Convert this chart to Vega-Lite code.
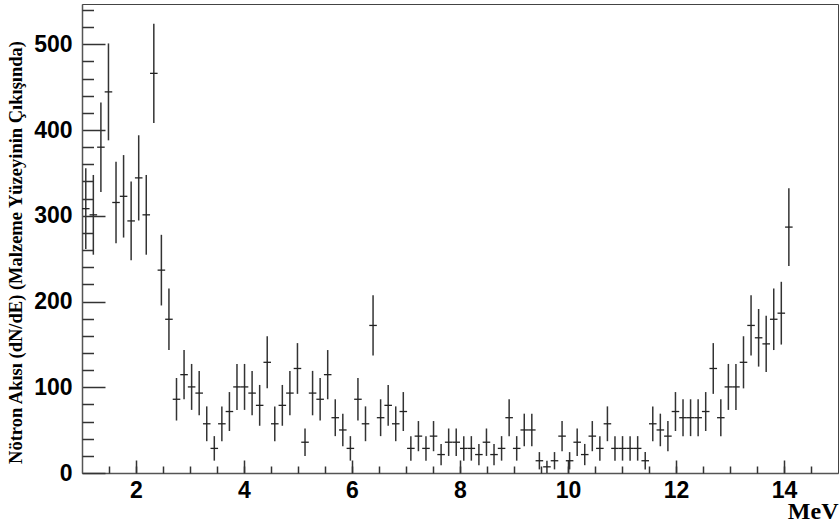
{
  "$schema": "https://vega.github.io/schema/vega-lite/v6.json",
  "width": 756,
  "height": 469,
  "autosize": {"type": "none"},
  "padding": {"left": 82, "top": 4, "right": 1, "bottom": 53},
  "background": "white",
  "config": {"view": {"stroke": "#444", "strokeWidth": 1}, "axis": {"grid": false}},
  "data": {"values": [
    {"lo": 1.00, "E": 1.07, "hi": 1.14, "v": 308.3, "err": 47.0},
    {"lo": 1.14, "E": 1.21, "hi": 1.28, "v": 301.1, "err": 46.5},
    {"lo": 1.28, "E": 1.35, "hi": 1.42, "v": 380.0, "err": 52.2},
    {"lo": 1.42, "E": 1.49, "hi": 1.56, "v": 444.5, "err": 56.5},
    {"lo": 1.56, "E": 1.63, "hi": 1.70, "v": 315.5, "err": 47.6},
    {"lo": 1.70, "E": 1.77, "hi": 1.84, "v": 322.7, "err": 48.1},
    {"lo": 1.84, "E": 1.91, "hi": 1.98, "v": 294.0, "err": 45.9},
    {"lo": 1.98, "E": 2.05, "hi": 2.12, "v": 344.2, "err": 49.7},
    {"lo": 2.12, "E": 2.19, "hi": 2.26, "v": 301.1, "err": 46.5},
    {"lo": 2.26, "E": 2.33, "hi": 2.40, "v": 466.1, "err": 57.8},
    {"lo": 2.40, "E": 2.47, "hi": 2.54, "v": 236.6, "err": 41.2},
    {"lo": 2.54, "E": 2.61, "hi": 2.68, "v": 179.3, "err": 35.9},
    {"lo": 2.68, "E": 2.75, "hi": 2.82, "v": 86.0, "err": 24.8},
    {"lo": 2.82, "E": 2.89, "hi": 2.96, "v": 114.7, "err": 28.7},
    {"lo": 2.96, "E": 3.03, "hi": 3.10, "v": 100.4, "err": 26.8},
    {"lo": 3.10, "E": 3.17, "hi": 3.24, "v": 93.2, "err": 25.9},
    {"lo": 3.24, "E": 3.31, "hi": 3.38, "v": 57.4, "err": 20.3},
    {"lo": 3.38, "E": 3.45, "hi": 3.52, "v": 28.7, "err": 14.3},
    {"lo": 3.52, "E": 3.59, "hi": 3.66, "v": 57.4, "err": 20.3},
    {"lo": 3.66, "E": 3.73, "hi": 3.80, "v": 71.7, "err": 22.7},
    {"lo": 3.80, "E": 3.87, "hi": 3.94, "v": 100.4, "err": 26.8},
    {"lo": 3.94, "E": 4.01, "hi": 4.08, "v": 100.4, "err": 26.8},
    {"lo": 4.08, "E": 4.15, "hi": 4.22, "v": 93.2, "err": 25.9},
    {"lo": 4.22, "E": 4.29, "hi": 4.36, "v": 78.9, "err": 23.8},
    {"lo": 4.36, "E": 4.43, "hi": 4.50, "v": 129.1, "err": 30.4},
    {"lo": 4.50, "E": 4.57, "hi": 4.64, "v": 57.4, "err": 20.3},
    {"lo": 4.64, "E": 4.71, "hi": 4.78, "v": 78.9, "err": 23.8},
    {"lo": 4.78, "E": 4.85, "hi": 4.92, "v": 93.2, "err": 25.9},
    {"lo": 4.92, "E": 4.99, "hi": 5.06, "v": 121.9, "err": 29.6},
    {"lo": 5.06, "E": 5.13, "hi": 5.20, "v": 35.9, "err": 16.0},
    {"lo": 5.20, "E": 5.27, "hi": 5.34, "v": 93.2, "err": 25.9},
    {"lo": 5.34, "E": 5.41, "hi": 5.48, "v": 86.0, "err": 24.8},
    {"lo": 5.48, "E": 5.55, "hi": 5.62, "v": 114.7, "err": 28.7},
    {"lo": 5.62, "E": 5.69, "hi": 5.76, "v": 64.5, "err": 21.5},
    {"lo": 5.76, "E": 5.83, "hi": 5.90, "v": 50.2, "err": 19.0},
    {"lo": 5.90, "E": 5.97, "hi": 6.04, "v": 28.7, "err": 14.3},
    {"lo": 6.04, "E": 6.11, "hi": 6.18, "v": 86.0, "err": 24.8},
    {"lo": 6.18, "E": 6.25, "hi": 6.32, "v": 57.4, "err": 20.3},
    {"lo": 6.32, "E": 6.39, "hi": 6.46, "v": 172.1, "err": 35.1},
    {"lo": 6.46, "E": 6.53, "hi": 6.60, "v": 64.5, "err": 21.5},
    {"lo": 6.60, "E": 6.67, "hi": 6.74, "v": 78.9, "err": 23.8},
    {"lo": 6.74, "E": 6.81, "hi": 6.88, "v": 57.4, "err": 20.3},
    {"lo": 6.88, "E": 6.95, "hi": 7.02, "v": 71.7, "err": 22.7},
    {"lo": 7.02, "E": 7.09, "hi": 7.16, "v": 28.7, "err": 14.3},
    {"lo": 7.16, "E": 7.23, "hi": 7.30, "v": 43.0, "err": 17.6},
    {"lo": 7.30, "E": 7.37, "hi": 7.44, "v": 28.7, "err": 14.3},
    {"lo": 7.44, "E": 7.51, "hi": 7.58, "v": 43.0, "err": 17.6},
    {"lo": 7.58, "E": 7.65, "hi": 7.72, "v": 21.5, "err": 12.4},
    {"lo": 7.72, "E": 7.79, "hi": 7.86, "v": 35.9, "err": 16.0},
    {"lo": 7.86, "E": 7.93, "hi": 8.00, "v": 35.9, "err": 16.0},
    {"lo": 8.00, "E": 8.07, "hi": 8.14, "v": 28.7, "err": 14.3},
    {"lo": 8.14, "E": 8.21, "hi": 8.28, "v": 28.7, "err": 14.3},
    {"lo": 8.28, "E": 8.35, "hi": 8.42, "v": 21.5, "err": 12.4},
    {"lo": 8.42, "E": 8.49, "hi": 8.56, "v": 35.9, "err": 16.0},
    {"lo": 8.56, "E": 8.63, "hi": 8.70, "v": 21.5, "err": 12.4},
    {"lo": 8.70, "E": 8.77, "hi": 8.84, "v": 28.7, "err": 14.3},
    {"lo": 8.84, "E": 8.91, "hi": 8.98, "v": 64.5, "err": 21.5},
    {"lo": 8.98, "E": 9.05, "hi": 9.12, "v": 28.7, "err": 14.3},
    {"lo": 9.12, "E": 9.19, "hi": 9.26, "v": 50.2, "err": 19.0},
    {"lo": 9.26, "E": 9.33, "hi": 9.40, "v": 50.2, "err": 19.0},
    {"lo": 9.40, "E": 9.47, "hi": 9.54, "v": 14.3, "err": 10.1},
    {"lo": 9.54, "E": 9.61, "hi": 9.68, "v": 7.2, "err": 7.2},
    {"lo": 9.68, "E": 9.75, "hi": 9.82, "v": 14.3, "err": 10.1},
    {"lo": 9.82, "E": 9.89, "hi": 9.96, "v": 43.0, "err": 17.6},
    {"lo": 9.96, "E": 10.03, "hi": 10.10, "v": 14.3, "err": 10.1},
    {"lo": 10.10, "E": 10.17, "hi": 10.24, "v": 35.9, "err": 16.0},
    {"lo": 10.24, "E": 10.31, "hi": 10.38, "v": 21.5, "err": 12.4},
    {"lo": 10.38, "E": 10.45, "hi": 10.52, "v": 43.0, "err": 17.6},
    {"lo": 10.52, "E": 10.59, "hi": 10.66, "v": 28.7, "err": 14.3},
    {"lo": 10.66, "E": 10.73, "hi": 10.80, "v": 57.4, "err": 20.3},
    {"lo": 10.80, "E": 10.87, "hi": 10.94, "v": 28.7, "err": 14.3},
    {"lo": 10.94, "E": 11.01, "hi": 11.08, "v": 28.7, "err": 14.3},
    {"lo": 11.08, "E": 11.15, "hi": 11.22, "v": 28.7, "err": 14.3},
    {"lo": 11.22, "E": 11.29, "hi": 11.36, "v": 28.7, "err": 14.3},
    {"lo": 11.36, "E": 11.43, "hi": 11.50, "v": 14.3, "err": 10.1},
    {"lo": 11.50, "E": 11.57, "hi": 11.64, "v": 57.4, "err": 20.3},
    {"lo": 11.64, "E": 11.71, "hi": 11.78, "v": 50.2, "err": 19.0},
    {"lo": 11.78, "E": 11.85, "hi": 11.92, "v": 43.0, "err": 17.6},
    {"lo": 11.92, "E": 11.99, "hi": 12.06, "v": 71.7, "err": 22.7},
    {"lo": 12.06, "E": 12.13, "hi": 12.20, "v": 64.5, "err": 21.5},
    {"lo": 12.20, "E": 12.27, "hi": 12.34, "v": 64.5, "err": 21.5},
    {"lo": 12.34, "E": 12.41, "hi": 12.48, "v": 64.5, "err": 21.5},
    {"lo": 12.48, "E": 12.55, "hi": 12.62, "v": 71.7, "err": 22.7},
    {"lo": 12.62, "E": 12.69, "hi": 12.76, "v": 121.9, "err": 29.6},
    {"lo": 12.76, "E": 12.83, "hi": 12.90, "v": 64.5, "err": 21.5},
    {"lo": 12.90, "E": 12.97, "hi": 13.04, "v": 100.4, "err": 26.8},
    {"lo": 13.04, "E": 13.11, "hi": 13.18, "v": 100.4, "err": 26.8},
    {"lo": 13.18, "E": 13.25, "hi": 13.32, "v": 129.1, "err": 30.4},
    {"lo": 13.32, "E": 13.39, "hi": 13.46, "v": 172.1, "err": 35.1},
    {"lo": 13.46, "E": 13.53, "hi": 13.60, "v": 157.7, "err": 33.6},
    {"lo": 13.60, "E": 13.67, "hi": 13.74, "v": 150.6, "err": 32.9},
    {"lo": 13.74, "E": 13.81, "hi": 13.88, "v": 179.3, "err": 35.9},
    {"lo": 13.88, "E": 13.95, "hi": 14.02, "v": 186.4, "err": 36.6},
    {"lo": 14.02, "E": 14.09, "hi": 14.16, "v": 286.8, "err": 45.3}
  ]},
  "layer": [
    {
      "mark": {"type": "errorbar", "ticks": false, "color": "#333", "rule": {"strokeWidth": 1.5}},
      "encoding": {
        "x": {
          "field": "E", "type": "quantitative",
          "scale": {"domain": [1, 15], "nice": false, "zero": false},
          "axis": {
            "orient": "bottom", "values": [2, 4, 6, 8, 10, 12, 14],
            "tickSize": -13, "tickColor": "#333", "tickWidth": 1.5,
            "domainColor": "#555", "domainWidth": 1.5,
            "labelFont": "Liberation Sans", "labelFontWeight": "bold", "labelFontSize": 23, "labelColor": "black",
            "labelPadding": 19, "labelFlush": false, "labelOverlap": false,
            "title": "MeV", "titleFont": "Liberation Serif", "titleFontWeight": "bold", "titleFontSize": 24,
            "titleColor": "black", "titleAnchor": "end", "titleAlign": "right", "titlePadding": -3
          }
        },
        "y": {
          "field": "v", "type": "quantitative",
          "scale": {"domain": [0, 547], "nice": false, "zero": true},
          "axis": {
            "orient": "left", "values": [0, 100, 200, 300, 400, 500],
            "tickSize": -23, "tickColor": "#333", "tickWidth": 1.5,
            "domainColor": "#555", "domainWidth": 1.5,
            "labelFont": "Liberation Sans", "labelFontWeight": "bold", "labelFontSize": 23, "labelColor": "black",
            "labelPadding": 33, "labelOverlap": false,
            "title": "Nötron Akısı (dN/dE) (Malzeme Yüzeyinin Çıkışında)",
            "titleFont": "Liberation Serif", "titleFontWeight": "bold", "titleFontSize": 18.5,
            "titleColor": "black", "titlePadding": 8, "titleY": 248
          }
        },
        "yError": {"field": "err"}
      }
    },
    {
      "mark": {"type": "rule", "stroke": "#222", "strokeWidth": 1.3},
      "encoding": {
        "x": {
          "field": "lo", "type": "quantitative",
          "axis": {
            "orient": "bottom", "values": [1.5, 2, 2.5, 3, 3.5, 4, 4.5, 5, 5.5, 6, 6.5, 7, 7.5, 8, 8.5, 9, 9.5, 10, 10.5, 11, 11.5, 12, 12.5, 13, 13.5, 14, 14.5],
            "tickSize": -7, "tickColor": "#333", "tickWidth": 1.5,
            "labels": false, "domain": false, "title": null
          }
        },
        "x2": {"field": "hi"},
        "y": {
          "field": "v", "type": "quantitative",
          "axis": {
            "orient": "left", "values": [20, 40, 60, 80, 120, 140, 160, 180, 220, 240, 260, 280, 320, 340, 360, 380, 420, 440, 460, 480, 520, 540],
            "tickSize": -11.5, "tickColor": "#333", "tickWidth": 1.5,
            "labels": false, "domain": false, "title": null
          }
        }
      }
    }
  ],
  "resolve": {"axis": {"x": "independent", "y": "independent"}}
}
